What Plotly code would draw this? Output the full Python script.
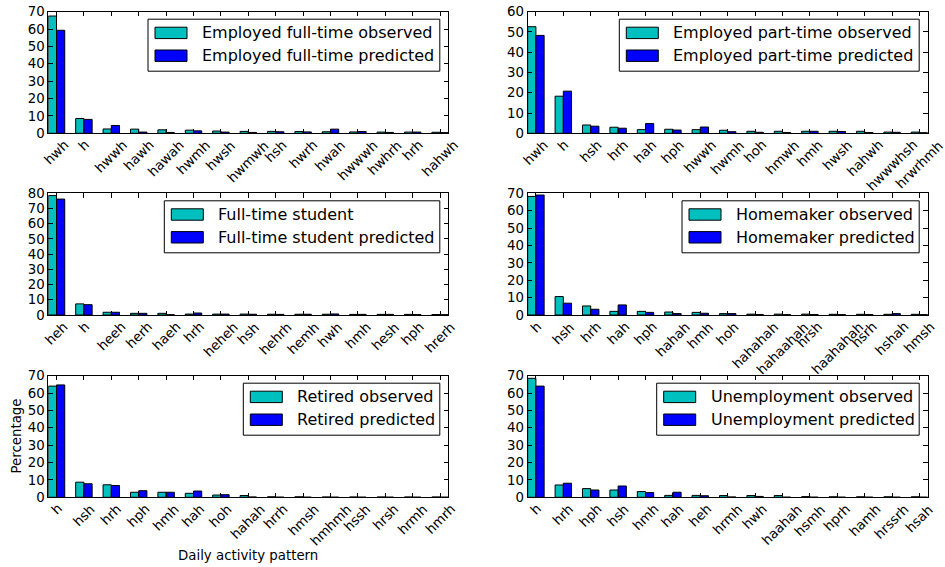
import plotly.graph_objects as go
from plotly.subplots import make_subplots

W, H = 945, 567

# ---------------- data ----------------
cats_ft = ["hwh", "h", "hwwh", "hawh", "hawah", "hwmh", "hwsh", "hwmwh", "hsh", "hwrh",
           "hwah", "hwwwh", "hwhrh", "hrh", "hahwh"]
obs_ft = [67.5, 8.5, 2.5, 2.4, 2.0, 1.8, 1.3, 1.1, 1.1, 1.0, 0.9, 0.8, 0.7, 0.7, 0.6]
pred_ft = [59.3, 8.0, 4.5, 0.7, 0.5, 1.4, 0.7, 0.5, 0.9, 0.8, 2.4, 1.0, 0.5, 0.7, 0.4]

cats_pt = ["hwh", "h", "hsh", "hrh", "hah", "hph", "hwwh", "hwmh", "hoh", "hmwh",
           "hmh", "hwsh", "hahwh", "hwwwhsh", "hrwrhmh"]
obs_pt = [52.6, 18.3, 4.1, 3.0, 1.8, 2.0, 1.8, 1.5, 1.0, 1.0, 1.0, 1.0, 1.0, 0.6, 0.6]
pred_pt = [48.3, 20.8, 3.5, 2.5, 4.8, 1.6, 3.1, 0.8, 0.5, 0.4, 1.0, 0.9, 0.4, 0.5, 0.3]

cats_st = ["heh", "h", "heeh", "herh", "haeh", "hrh", "heheh", "hsh", "hehrh", "hemh",
           "hwh", "hmh", "hesh", "hph", "hrerh"]
obs_st = [78.5, 7.3, 1.8, 1.1, 1.1, 0.6, 0.6, 0.6, 0.5, 0.5, 0.5, 0.4, 0.4, 0.4, 0.3]
pred_st = [76.2, 6.8, 1.8, 1.1, 0.2, 1.3, 0.6, 0.5, 0.4, 0.5, 0.7, 0.4, 0.4, 0.3, 0.2]

cats_hm = ["h", "hsh", "hrh", "hah", "hph", "hahah", "hmh", "hoh", "hahahah", "hahaahah",
           "hrsh", "haahahah", "hsrh", "hshah", "hmsh"]
obs_hm = [68.2, 10.6, 5.2, 2.1, 2.1, 1.7, 1.5, 0.8, 0.5, 0.5, 0.5, 0.4, 0.4, 0.4, 0.4]
pred_hm = [69.0, 6.8, 3.3, 5.8, 1.5, 0.8, 1.0, 0.8, 0.3, 0.2, 0.3, 0.2, 0.3, 0.8, 0.2]

cats_rt = ["h", "hsh", "hrh", "hph", "hmh", "hah", "hoh", "hahah", "hrrh", "hmsh",
           "hmhmh", "hssh", "hrsh", "hrmh", "hmrh"]
obs_rt = [64.0, 8.7, 7.2, 2.9, 2.9, 2.3, 1.3, 1.0, 0.3, 0.3, 0.2, 0.2, 0.2, 0.2, 0.2]
pred_rt = [64.7, 7.8, 6.8, 3.8, 2.9, 3.6, 1.5, 0.2, 0.1, 0.1, 0.1, 0.1, 0.1, 0.1, 0.1]

cats_un = ["h", "hrh", "hph", "hsh", "hmh", "hah", "heh", "hrmh", "hwh", "haahah",
           "hsmh", "hprh", "hamh", "hrssrh", "hsah"]
obs_un = [68.5, 7.1, 5.0, 4.2, 3.3, 1.1, 1.1, 1.0, 1.0, 1.0, 0.4, 0.3, 0.3, 0.3, 0.3]
pred_un = [64.0, 8.1, 4.2, 6.5, 2.7, 2.9, 0.9, 0.2, 0.5, 0.1, 0.1, 0.1, 0.1, 0.1, 0.1]

names_obs = ["Employed full-time observed", "Employed part-time observed", "Full-time student",
             "Homemaker observed", "Retired observed", "Unemployment observed"]
names_pred = ["Employed full-time predicted", "Employed part-time predicted",
              "Full-time student predicted", "Homemaker predicted", "Retired predicted",
              "Unemployment predicted"]
y_max = [70, 60, 80, 70, 70, 70]

categories = [cats_ft, cats_pt, cats_st, cats_hm, cats_rt, cats_un]
observed = [obs_ft, obs_pt, obs_st, obs_hm, obs_rt, obs_un]
predicted = [pred_ft, pred_pt, pred_st, pred_hm, pred_rt, pred_un]

x_title = "Daily activity pattern"
y_title = "Percentage"

# ---------------- style ----------------
FONT = "DejaVu Sans"
C_OBS = "#00BFBF"
C_PRED = "#0000FF"
TICK_FS = 13.33
LEG_FS = 16

# axes rectangles in window pixels
col_px = [(48.3, 448.3), (527.7, 927.7)]
row_px = [(11.7, 133.3), (193.3, 315.0), (375.7, 497.3)]
legend_left_px = [148, 619.3, 164.3, 682, 243.3, 656.7]


def px_x(px):
    return px / W


def px_y(py):
    return 1 - py / H


fig = make_subplots(rows=3, cols=2)

for k in range(6):
    r, c = k // 2 + 1, k % 2 + 1
    fig.add_trace(go.Bar(x=categories[k], y=observed[k], name=names_obs[k],
                         marker=dict(color=C_OBS, line=dict(color="black", width=1)),
                         showlegend=False), row=r, col=c)
    fig.add_trace(go.Bar(x=categories[k], y=predicted[k], name=names_pred[k],
                         marker=dict(color=C_PRED, line=dict(color="black", width=1)),
                         showlegend=False), row=r, col=c)

shapes = []
annotations = []
for k in range(6):
    r, c = k // 2, k % 2
    n = k + 1
    sfx = "" if n == 1 else str(n)
    x0, x1 = col_px[c]
    t, b = row_px[r]
    aw, ah = x1 - x0, b - t
    fig.layout["xaxis" + sfx].update(
        domain=[px_x(x0), px_x(x1)], type="category", range=[-0.3, len(categories[k]) - 0.7],
        showticklabels=False, ticks="inside", ticklen=4.4, tickcolor="black",
        mirror="allticks", showline=True, linecolor="black", linewidth=1,
        showgrid=False, zeroline=False, automargin=False)
    fig.layout["yaxis" + sfx].update(
        domain=[px_y(b), px_y(t)], range=[0, y_max[k]], dtick=10,
        ticks="inside", ticklen=4.4, tickcolor="black", mirror="allticks",
        showline=True, linecolor="black", linewidth=1, showgrid=False, zeroline=False,
        automargin=False, ticklabeloverflow="allow",
        tickfont=dict(family=FONT, size=TICK_FS, color="black"))

    xr, yr = "x" + sfx, "y" + sfx
    # rotated category labels (centered like the original)
    for cat in categories[k]:
        annotations.append(dict(x=cat, y=0, xref=xr, yref=yr + " domain", text=cat,
                                showarrow=False, textangle=-45, xanchor="center",
                                yanchor="top", yshift=-3, borderpad=0,
                                font=dict(family=FONT, size=TICK_FS, color="black")))

    # legend box drawn in axis-domain coordinates
    def dx(px):
        return (px - x0) / aw

    def dy(px_from_top):
        return 1 - px_from_top / ah

    lx = legend_left_px[k]
    box_r = x1 - 8.5
    shapes.append(dict(type="rect", xref=xr + " domain", yref=yr + " domain",
                       x0=dx(lx), x1=dx(box_r), y0=dy(59.5), y1=dy(7.5),
                       line=dict(color="black", width=1), fillcolor="white", layer="above"))
    for j, (nm, col) in enumerate([(names_obs[k], C_OBS), (names_pred[k], C_PRED)]):
        cy = 7.5 + 13.7 + j * 22.8
        shapes.append(dict(type="rect", xref=xr + " domain", yref=yr + " domain",
                           x0=dx(lx + 7), x1=dx(lx + 39), y0=dy(cy + 5.7), y1=dy(cy - 5.7),
                           line=dict(color="black", width=1), fillcolor=col, layer="above"))
        annotations.append(dict(x=dx(lx + 53), y=dy(cy), xref=xr + " domain",
                                yref=yr + " domain", text=nm, showarrow=False,
                                xanchor="left", yanchor="middle", borderpad=0,
                                font=dict(family=FONT, size=LEG_FS, color="black")))

annotations.append(dict(x=px_x(16), y=0.5, xref="paper", yref="y5 domain", text=y_title,
                        showarrow=False, textangle=-90, xanchor="center", yanchor="middle",
                        font=dict(family=FONT, size=TICK_FS, color="black")))
annotations.append(dict(x=0.5, y=px_y(555), xref="x5 domain", yref="paper", text=x_title,
                        showarrow=False, xanchor="center", yanchor="middle",
                        font=dict(family=FONT, size=TICK_FS, color="black")))

fig.update_layout(width=W, height=H, margin=dict(l=0, r=0, t=0, b=0),
                  paper_bgcolor="white", plot_bgcolor="white",
                  barmode="group", bargap=0.4, bargroupgap=0,
                  font=dict(family=FONT, size=TICK_FS, color="black"),
                  shapes=shapes, annotations=annotations, showlegend=False,
                  hovermode=False)

# remove the default page margin so the figure fills the window exactly
fig.write_html("out.html", config={"displayModeBar": False, "staticPlot": True},
               post_script="document.body.style.margin='0';")
